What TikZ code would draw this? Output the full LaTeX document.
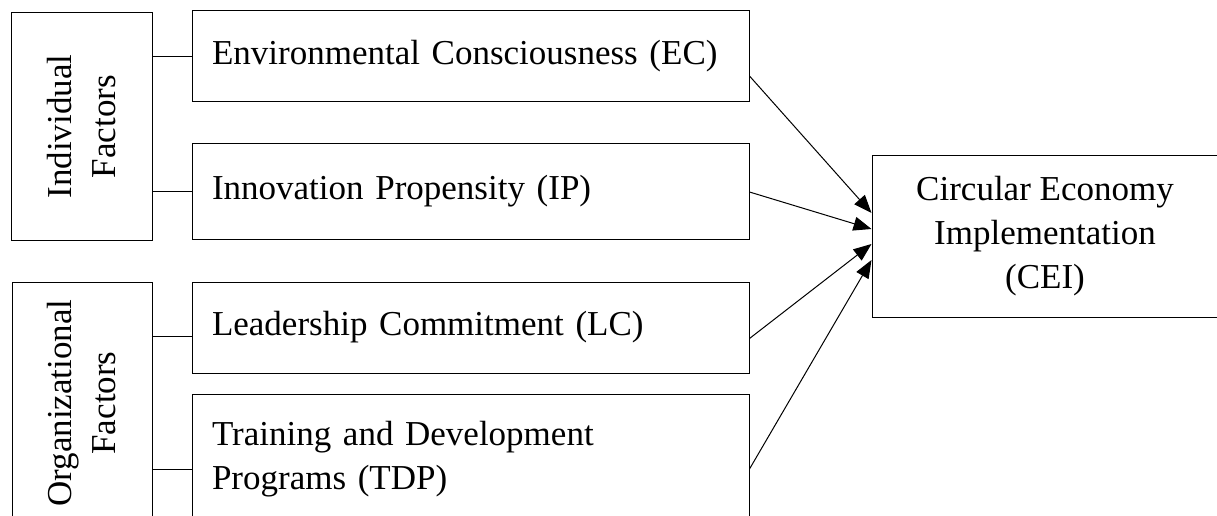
\documentclass[tikz,border=0pt]{standalone}
\usepackage{fontspec}
\setmainfont{Liberation Serif}
\usetikzlibrary{arrows.meta}

\tikzset{
  box/.style={draw, line width=1pt, inner sep=0pt, font=\fontsize{35}{44}\selectfont},
  item/.style={box, text width=517pt, inner xsep=20pt, align=left},
  group/.style={box, rotate=90, align=center},
  link/.style={line width=1pt},
  flow/.style={line width=1pt, -{Triangle[length=18pt,width=14pt]}}
}

\begin{document}
\begin{tikzpicture}[x=1pt, y=-1pt]
    \useasboundingbox (0,0) rectangle (1217,516);
    \clip (0,0) rectangle (1217,516);
    % factor groups
    \node[group, minimum width=227pt, minimum height=141pt] (ind) at (81.5,126.5) {Individual\\Factors};
    \node[group, minimum width=242pt, minimum height=140pt] (org) at (82,403) {Organizational\\Factors};
    % factors
    \node[item, minimum height=91pt] (ec) at (470.5,56.5) {Environmental Consciousness (EC)};
    \node[item, minimum height=96pt] (ip) at (470.5,191) {Innovation Propensity (IP)};
    \node[item, minimum height=91pt] (lc) at (470.5,327.5) {Leadership Commitment (LC)};
    \node[item, minimum height=130pt] (tdp) at (470.5,459) {Training and Development\\Programs (TDP)};
    % outcome
    \node[box, minimum width=346pt, minimum height=162pt, align=center] (cei) at (1045,236) {Circular Economy\\Implementation\\(CEI)};
    \coordinate (lcin) at ([yshift=-9pt]lc.west);
    \coordinate (tdpin) at ([yshift=-10pt]tdp.west);
    % group links
    \draw [link] (ind.south |- ec.west) to (ec.west);
    \draw [link] (ind.south |- ip.west) to (ip.west);
    \draw [link] (org.south |- lcin) to (lcin);
    \draw [link] (org.south |- tdpin) to (tdpin);
    % arrows to outcome
    \draw [flow] ([yshift=-19.5pt]ec.east) to ([yshift=23pt]cei.west);
    \draw [flow] ([yshift=-1pt]ip.east) to ([yshift=7pt]cei.west);
    \draw [flow] ([yshift=-11pt]lc.east) to ([yshift=-8pt]cei.west);
    \draw [flow] ([yshift=-10pt]tdp.east) to ([yshift=-24pt]cei.west);
\end{tikzpicture}
\end{document}
